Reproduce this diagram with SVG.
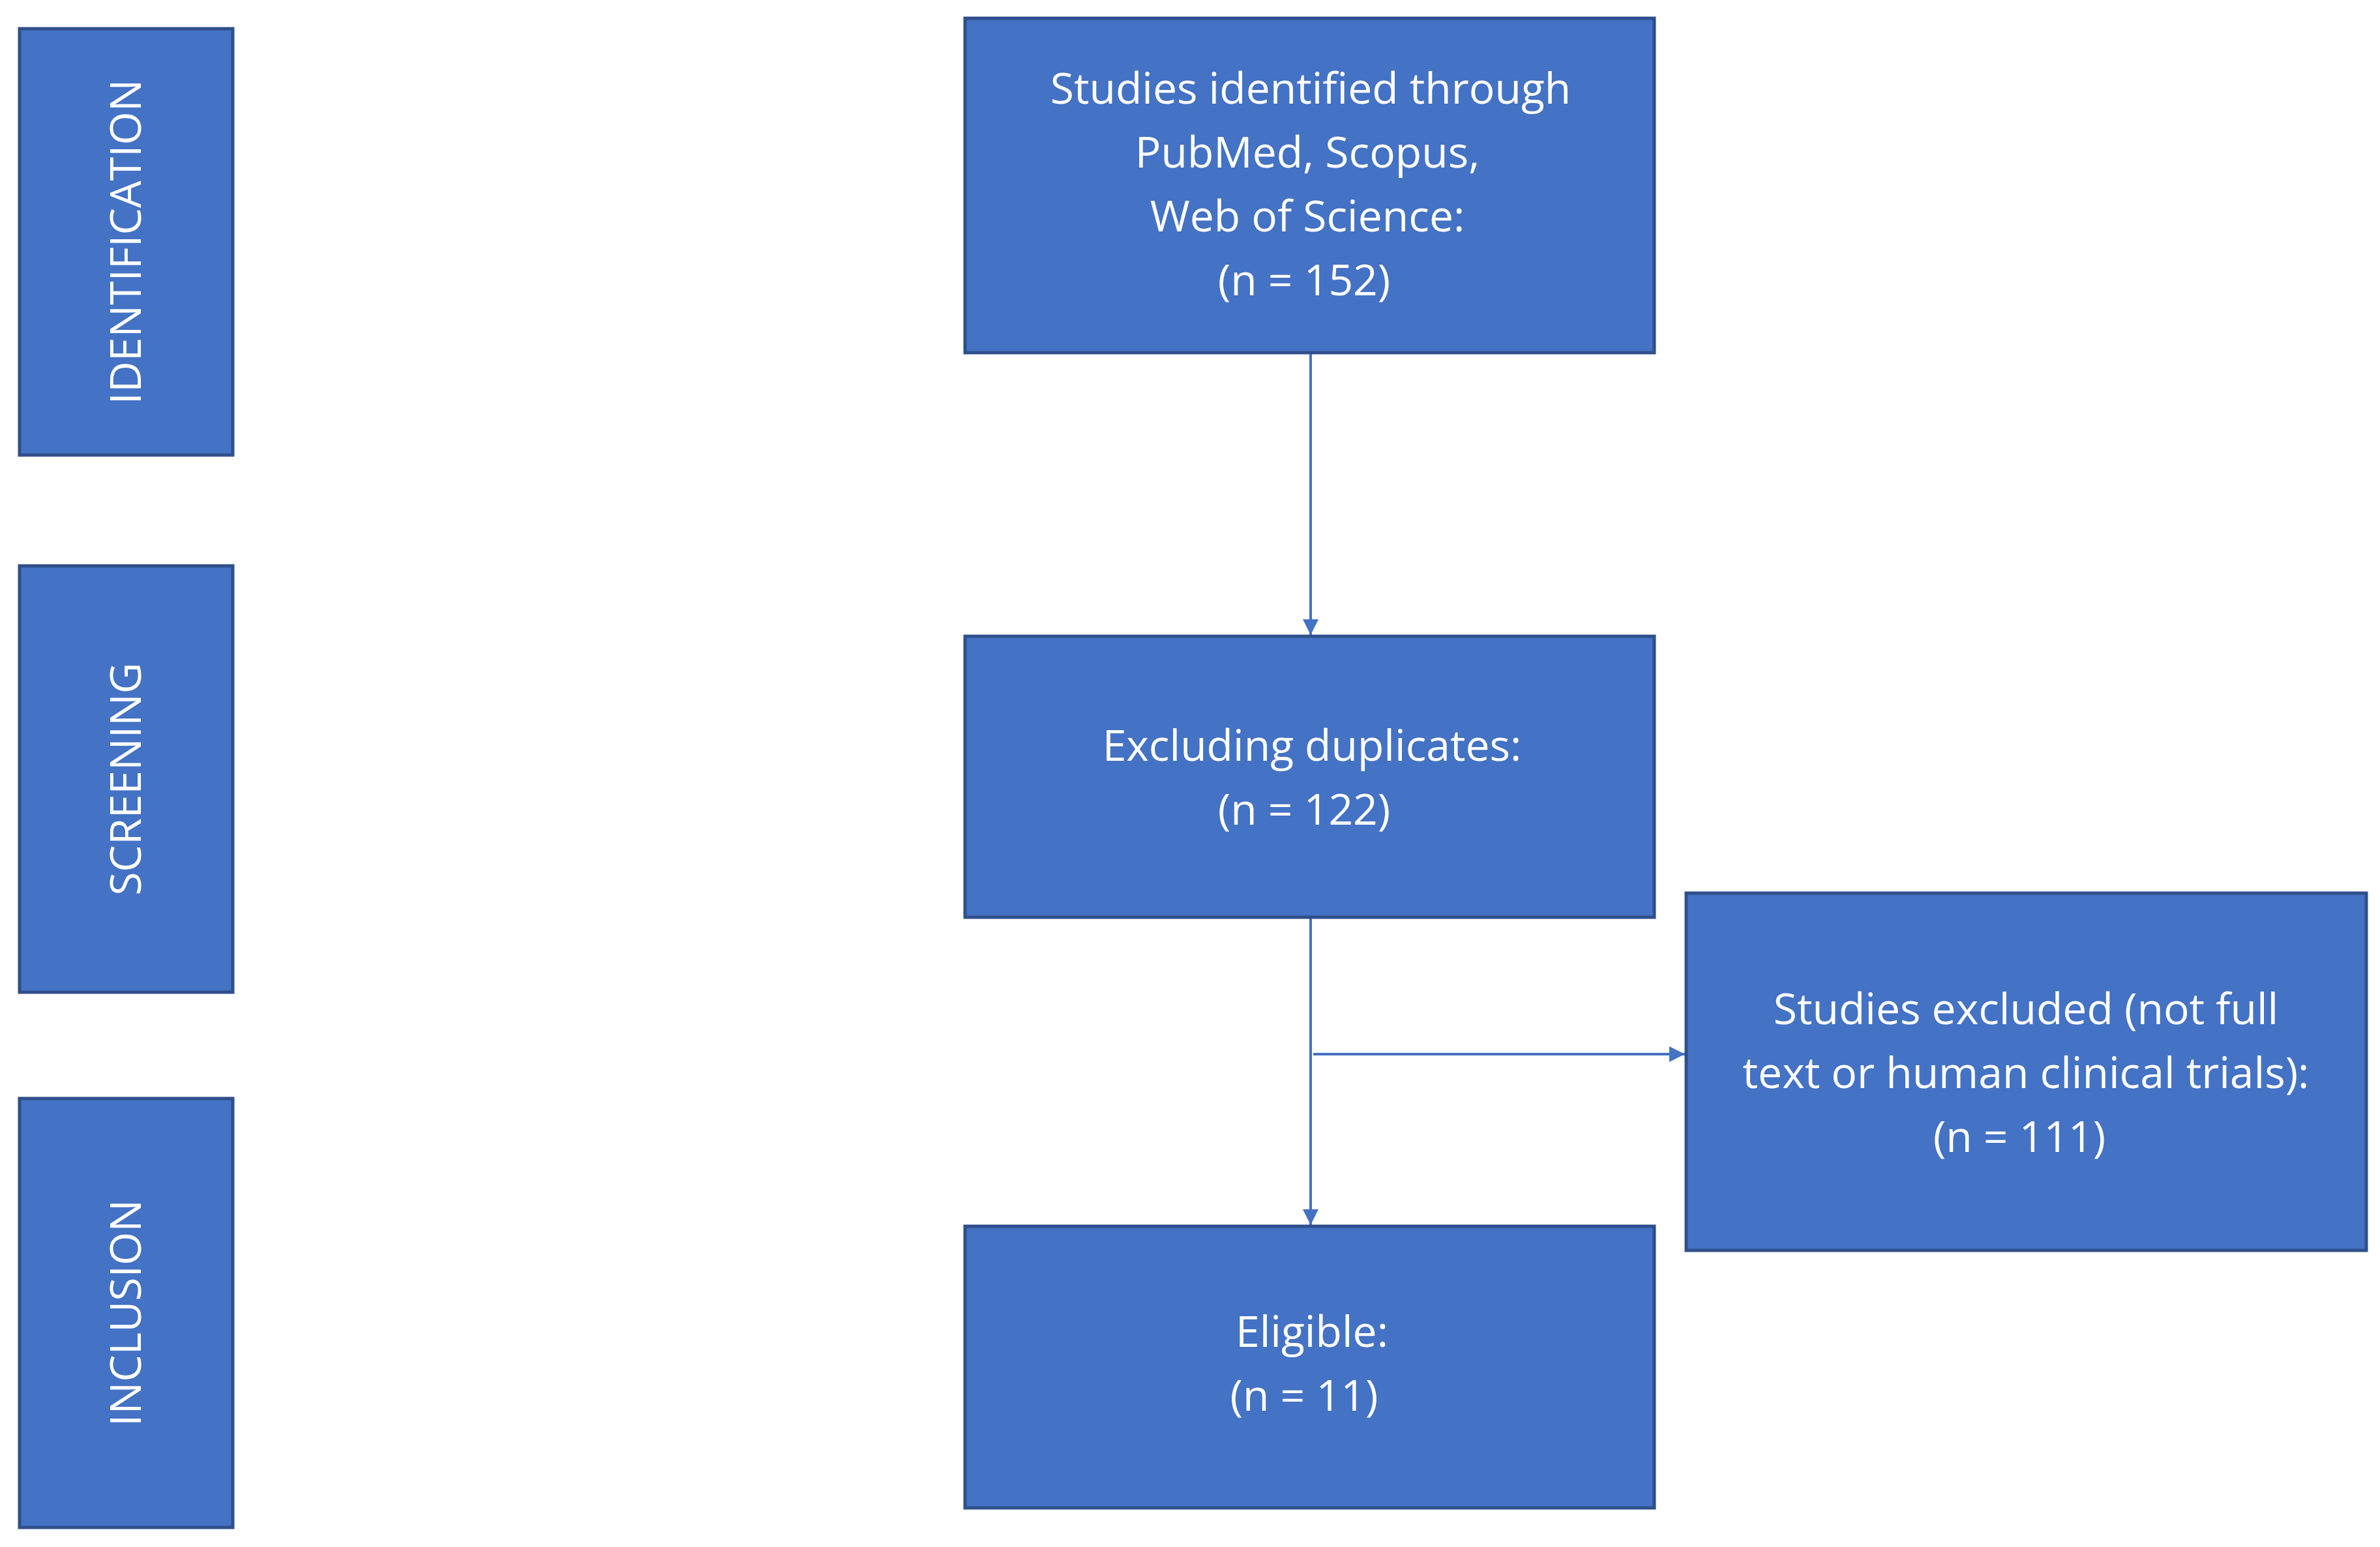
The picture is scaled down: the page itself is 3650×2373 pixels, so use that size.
<svg xmlns="http://www.w3.org/2000/svg" width="3650" height="2373" viewBox="0 0 3650 2373">
<defs>
<style>
.b{fill:#4472C4;stroke:#2F4F8A;stroke-width:5}
.t{fill:#fff;font-family:"Open Sans","Liberation Sans",sans-serif;font-size:66px;text-anchor:middle}
.c{stroke:#4472C4;stroke-width:4;fill:none}
</style>
<marker id="a" markerWidth="8" markerHeight="8" refX="7" refY="4" orient="auto" markerUnits="userSpaceOnUse" viewBox="0 0 8 8"><path d="M0,0 L8,4 L0,8 z" fill="#4472C4"/></marker>
<marker id="m" viewBox="0 0 10 10" refX="10" refY="5" markerWidth="24" markerHeight="24" orient="auto" markerUnits="userSpaceOnUse"><path d="M0,0 L10,5 L0,10 z" fill="#4472C4"/></marker>
</defs>
<rect width="3650" height="2373" fill="#fff"/>
<g id="identification"><rect class="b" x="30" y="44" width="327" height="654"/><text class="t" transform="translate(216,371) rotate(-90)">IDENTIFICATION</text></g>
<g id="screening"><rect class="b" x="30" y="868" width="327" height="654"/><text class="t" transform="translate(216,1195) rotate(-90)">SCREENING</text></g>
<g id="inclusion"><rect class="b" x="30" y="1685" width="327" height="658"/><text class="t" transform="translate(216,2014) rotate(-90)">INCLUSION</text></g>
<g id="connectors">
<line class="c" x1="2010" y1="541" x2="2010" y2="974" marker-end="url(#m)"/>
<line class="c" x1="2010" y1="1407" x2="2010" y2="1879" marker-end="url(#m)"/>
<line class="c" x1="2014" y1="1617" x2="2584" y2="1617" marker-end="url(#m)"/>
</g>
<g id="n1"><rect class="b" x="1480" y="28" width="1057" height="513"/>
<text class="t" x="2010" y="159">Studies identified through</text>
<text class="t" x="2005" y="257">PubMed, Scopus,</text>
<text class="t" x="2005" y="355">Web of Science:</text>
<text class="t" x="2000" y="453">(n = 152)</text></g>
<g id="n2"><rect class="b" x="1480" y="976" width="1057" height="431"/>
<text class="t" x="2012" y="1167">Excluding duplicates:</text>
<text class="t" x="2000" y="1265">(n = 122)</text></g>
<g id="n3"><rect class="b" x="2586" y="1370" width="1043" height="548"/>
<text class="t" x="3107" y="1571">Studies excluded (not full</text>
<text class="t" x="3107" y="1669">text or human clinical trials):</text>
<text class="t" x="3097" y="1767">(n = 111)</text></g>
<g id="n4"><rect class="b" x="1480" y="1881" width="1057" height="432"/>
<text class="t" x="2012" y="2066">Eligible:</text>
<text class="t" x="2000" y="2164">(n = 11)</text></g>
</svg>
